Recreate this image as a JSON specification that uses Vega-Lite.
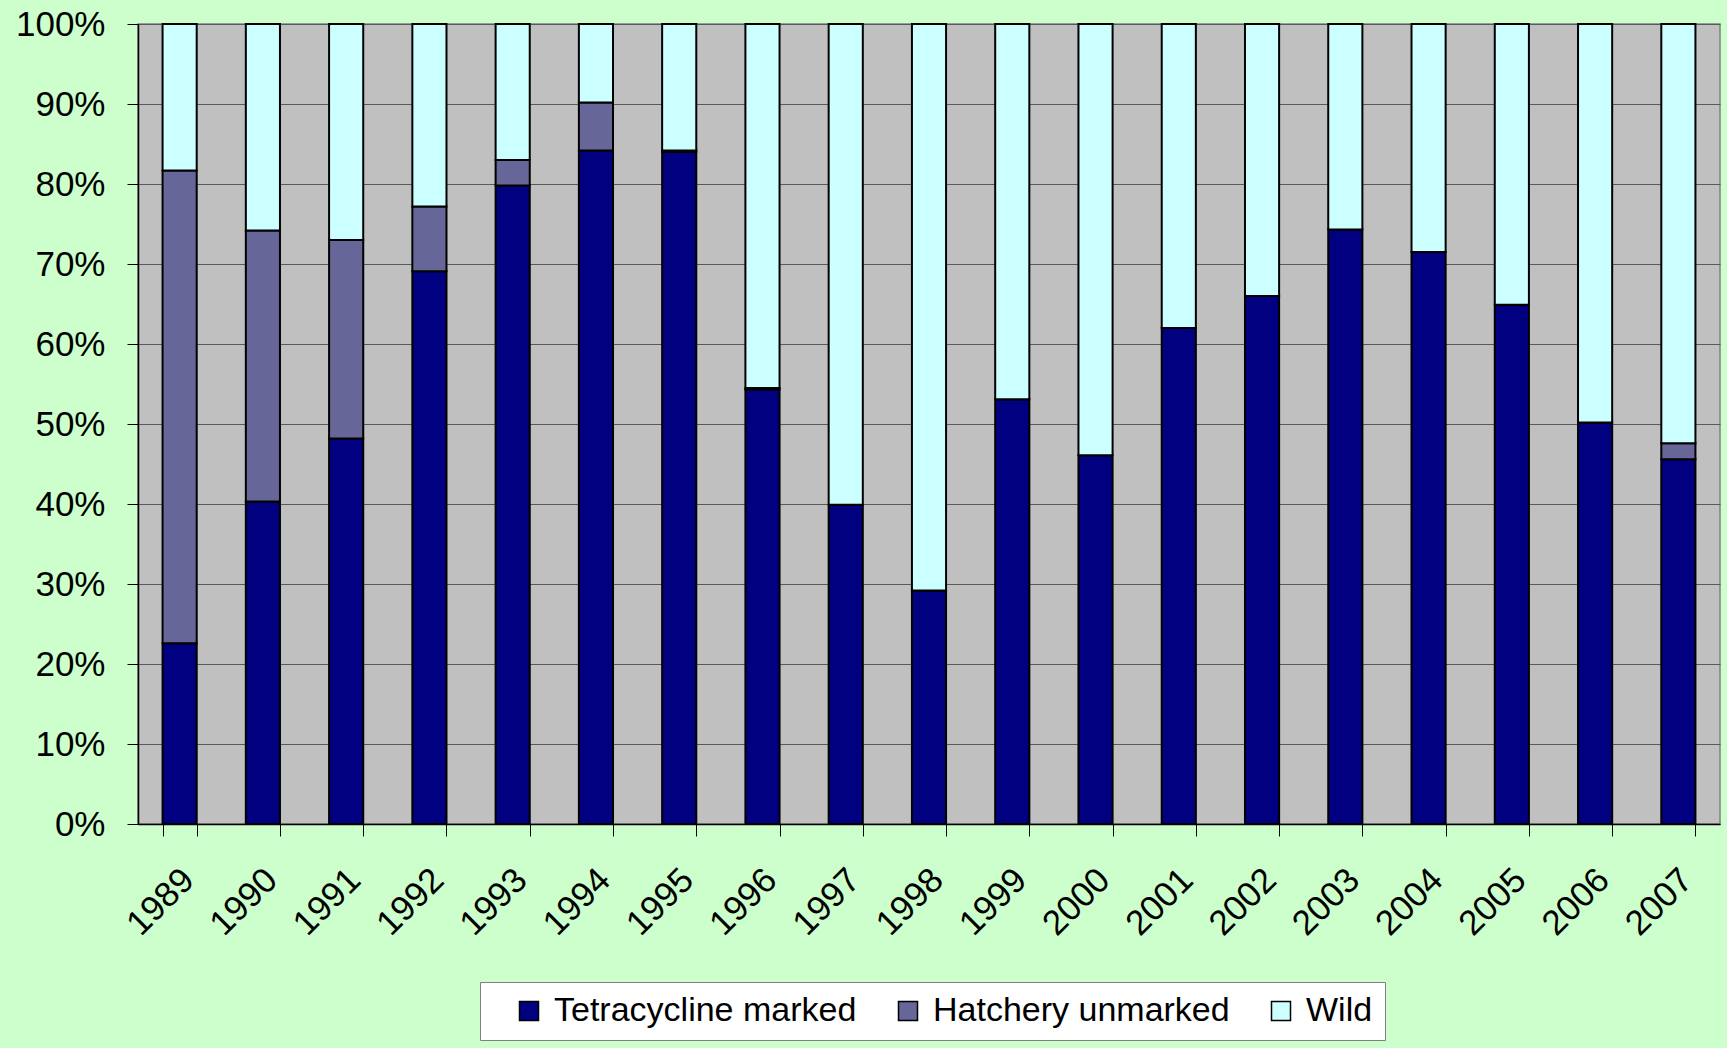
{
  "$schema": "https://vega.github.io/schema/vega-lite/v6.json",
  "width": 1582,
  "height": 800,
  "autosize": {"type": "none"},
  "padding": {"left": 138, "top": 24, "right": 7, "bottom": 224},
  "background": "#CCFFCC",
  "data": {
    "values": [
      {"year": "1989", "group": "Tetracycline marked", "pct": 22.6},
      {"year": "1989", "group": "Hatchery unmarked", "pct": 59.1},
      {"year": "1989", "group": "Wild", "pct": 18.3},
      {"year": "1990", "group": "Tetracycline marked", "pct": 40.3},
      {"year": "1990", "group": "Hatchery unmarked", "pct": 33.9},
      {"year": "1990", "group": "Wild", "pct": 25.8},
      {"year": "1991", "group": "Tetracycline marked", "pct": 48.2},
      {"year": "1991", "group": "Hatchery unmarked", "pct": 24.8},
      {"year": "1991", "group": "Wild", "pct": 27.0},
      {"year": "1992", "group": "Tetracycline marked", "pct": 69.1},
      {"year": "1992", "group": "Hatchery unmarked", "pct": 8.1},
      {"year": "1992", "group": "Wild", "pct": 22.8},
      {"year": "1993", "group": "Tetracycline marked", "pct": 79.8},
      {"year": "1993", "group": "Hatchery unmarked", "pct": 3.2},
      {"year": "1993", "group": "Wild", "pct": 17.0},
      {"year": "1994", "group": "Tetracycline marked", "pct": 84.2},
      {"year": "1994", "group": "Hatchery unmarked", "pct": 6.0},
      {"year": "1994", "group": "Wild", "pct": 9.8},
      {"year": "1995", "group": "Tetracycline marked", "pct": 84.0},
      {"year": "1995", "group": "Hatchery unmarked", "pct": 0.2},
      {"year": "1995", "group": "Wild", "pct": 15.8},
      {"year": "1996", "group": "Tetracycline marked", "pct": 54.3},
      {"year": "1996", "group": "Hatchery unmarked", "pct": 0.2},
      {"year": "1996", "group": "Wild", "pct": 45.5},
      {"year": "1997", "group": "Tetracycline marked", "pct": 39.9},
      {"year": "1997", "group": "Hatchery unmarked", "pct": 0},
      {"year": "1997", "group": "Wild", "pct": 60.1},
      {"year": "1998", "group": "Tetracycline marked", "pct": 29.2},
      {"year": "1998", "group": "Hatchery unmarked", "pct": 0},
      {"year": "1998", "group": "Wild", "pct": 70.8},
      {"year": "1999", "group": "Tetracycline marked", "pct": 53.1},
      {"year": "1999", "group": "Hatchery unmarked", "pct": 0},
      {"year": "1999", "group": "Wild", "pct": 46.9},
      {"year": "2000", "group": "Tetracycline marked", "pct": 46.1},
      {"year": "2000", "group": "Hatchery unmarked", "pct": 0},
      {"year": "2000", "group": "Wild", "pct": 53.9},
      {"year": "2001", "group": "Tetracycline marked", "pct": 62.0},
      {"year": "2001", "group": "Hatchery unmarked", "pct": 0},
      {"year": "2001", "group": "Wild", "pct": 38.0},
      {"year": "2002", "group": "Tetracycline marked", "pct": 66.0},
      {"year": "2002", "group": "Hatchery unmarked", "pct": 0},
      {"year": "2002", "group": "Wild", "pct": 34.0},
      {"year": "2003", "group": "Tetracycline marked", "pct": 74.3},
      {"year": "2003", "group": "Hatchery unmarked", "pct": 0},
      {"year": "2003", "group": "Wild", "pct": 25.7},
      {"year": "2004", "group": "Tetracycline marked", "pct": 71.5},
      {"year": "2004", "group": "Hatchery unmarked", "pct": 0},
      {"year": "2004", "group": "Wild", "pct": 28.5},
      {"year": "2005", "group": "Tetracycline marked", "pct": 64.9},
      {"year": "2005", "group": "Hatchery unmarked", "pct": 0},
      {"year": "2005", "group": "Wild", "pct": 35.1},
      {"year": "2006", "group": "Tetracycline marked", "pct": 50.2},
      {"year": "2006", "group": "Hatchery unmarked", "pct": 0},
      {"year": "2006", "group": "Wild", "pct": 49.8},
      {"year": "2007", "group": "Tetracycline marked", "pct": 45.6},
      {"year": "2007", "group": "Hatchery unmarked", "pct": 2.0},
      {"year": "2007", "group": "Wild", "pct": 52.4}
    ]
  },
  "transform": [
    {"calculate": "indexof(['Tetracycline marked', 'Hatchery unmarked', 'Wild'], datum.group)", "as": "stackOrder"}
  ],
  "mark": {"type": "bar", "stroke": "#000000", "strokeWidth": 2, "strokeJoin": "miter"},
  "encoding": {
    "x": {
      "field": "year",
      "type": "nominal",
      "scale": {"paddingInner": 0.59, "paddingOuter": 0.295},
      "axis": {
        "title": null,
        "labelAngle": -45,
        "labelAlign": "right",
        "labelBaseline": "middle",
        "labelFont": "Liberation Sans",
        "labelFontSize": 35,
        "labelColor": "#000000",
        "labelPadding": 38,
        "labelOffset": 8,
        "tickBand": "extent",
        "tickSize": 12,
        "tickColor": "#000000",
        "domainColor": "#000000",
        "domainWidth": 1.5,
        "grid": false
      }
    },
    "y": {
      "field": "pct",
      "type": "quantitative",
      "stack": "zero",
      "scale": {"domain": [0, 100], "nice": false},
      "axis": {
        "title": null,
        "values": [0, 10, 20, 30, 40, 50, 60, 70, 80, 90, 100],
        "labelExpr": "datum.value + '%'",
        "labelFont": "Liberation Sans",
        "labelFontSize": 35,
        "labelColor": "#000000",
        "labelPadding": 22,
        "tickSize": 11,
        "tickColor": "#000000",
        "domainColor": "#000000",
        "domainWidth": 1.5,
        "grid": true,
        "gridColor": "#5a5a5a",
        "gridWidth": 1
      }
    },
    "order": {"field": "stackOrder", "type": "quantitative", "sort": "ascending"},
    "color": {
      "field": "group",
      "type": "nominal",
      "scale": {
        "domain": ["Tetracycline marked", "Hatchery unmarked", "Wild"],
        "range": ["#000080", "#666699", "#CCFFFF"]
      },
      "legend": {
        "title": " ",
        "titleOrient": "left",
        "titlePadding": 20,
        "titleFontSize": 34,
        "orient": "none",
        "legendX": 342,
        "legendY": 958,
        "direction": "horizontal",
        "fillColor": "#FFFFFF",
        "strokeColor": "#808080",
        "padding": 12,
        "labelFont": "Liberation Sans",
        "labelFontSize": 34,
        "labelColor": "#000000",
        "labelLimit": 500,
        "labelOffset": 8,
        "columnPadding": 34,
        "symbolType": "square",
        "symbolSize": 361,
        "symbolStrokeColor": "#000000",
        "symbolStrokeWidth": 1.5,
        "symbolOpacity": 1
      }
    }
  },
  "config": {
    "view": {"fill": "#C0C0C0", "stroke": "#808080", "strokeWidth": 1.5}
  }
}
